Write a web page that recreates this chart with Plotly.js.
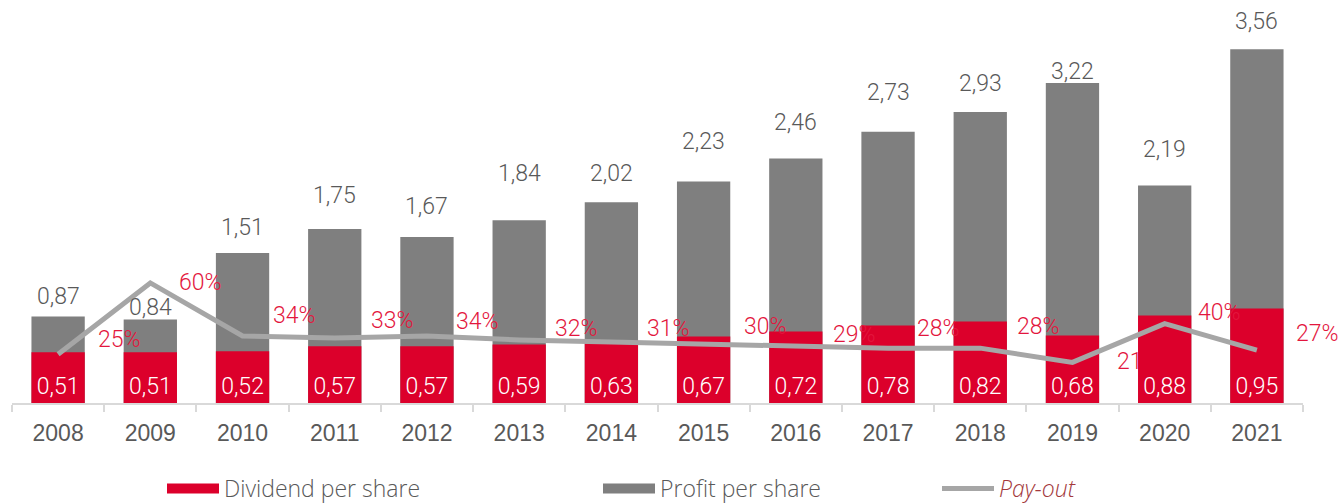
<!DOCTYPE html>
<html>
<head>
<meta charset="utf-8">
<script src="https://cdn.plot.ly/plotly-3.0.1.min.js"></script>
<style>
  html, body { margin: 0; padding: 0; background: #fff; }
  #chart { width: 1340px; height: 504px; }
</style>
</head>
<body>
<div id="chart"></div>
<script>
// values
const years = ['2008', '2009', '2010', '2011', '2012', '2013', '2014', '2015', '2016', '2017', '2018', '2019', '2020', '2021'];
const dividendPerShare = [0.51, 0.51, 0.52, 0.57, 0.57, 0.59, 0.63, 0.67, 0.72, 0.78, 0.82, 0.68, 0.88, 0.95];
const profitPerShare = [0.87, 0.84, 1.51, 1.75, 1.67, 1.84, 2.02, 2.23, 2.46, 2.73, 2.93, 3.22, 2.19, 3.56];
const payout = [25, 60, 34, 33, 34, 32, 31, 30, 29, 28, 28, 21, 40, 27];
// 2019's label is cut to "21" in the source
const payoutLabels = ['25%', '60%', '34%', '33%', '34%', '32%', '31%', '30%', '29%', '28%', '28%', '21', '40%', '27%'];

// label nudges (px), as placed in the original
const profitLabelLift = [20, 12, 25, 34, 31, 47, 29, 40, 36, 39, 28, 12, 36, 28];
const payoutLabelDx = [38, 27, 28, 34, 27, 34, 34, 38, 35, 27, 35, 43, 31, 37];
const payoutLabelDy = [15, 0, 20, 17, 14, 11, 14, 18, 12, 20, 22, 1, 11, 17];

const RED = '#DC002B';
const GREY = '#7F7F7F';
const LINE = '#A6A6A6';
const TEXT = '#595959';
const PCT = '#E3163D';
const LIGHT = 'Roboto, "Open Sans", sans-serif';
const WIDE = '"Open Sans", Roboto, sans-serif';

const fmt = v => v.toFixed(2).replace('.', ',');

const profitTrace = {
    type: 'bar',
    x: years,
    y: profitPerShare,
    width: 0.578,
    marker: { color: GREY },
    showlegend: false,
    hoverinfo: 'skip'
};

const dividendTrace = {
    type: 'bar',
    x: years,
    y: dividendPerShare,
    width: 0.578,
    marker: { color: RED },
    text: dividendPerShare.map(fmt),
    textposition: 'inside',
    insidetextanchor: 'start',
    textangle: 0,
    constraintext: 'none',
    textfont: { family: LIGHT, weight: 300, size: 23, color: '#FFFFFF' },
    showlegend: false,
    hoverinfo: 'skip'
};

const payoutTrace = {
    type: 'scatter',
    mode: 'lines',
    x: years,
    y: payout,
    yaxis: 'y2',
    name: '<i>Pay-out</i>',
    line: { color: LINE, width: 5 },
    legend: 'legend3',
    hoverinfo: 'skip'
};

// legend-only entries so the swatches are wide like the original
const dividendKey = {
    type: 'scatter', mode: 'lines', x: [years[0]], y: [null],
    name: 'Dividend per share', line: { color: RED, width: 14 }, legend: 'legend'
};
const profitKey = {
    type: 'scatter', mode: 'lines', x: [years[0]], y: [null],
    name: 'Profit per share', line: { color: GREY, width: 14 }, legend: 'legend2'
};

const annotations = [];
years.forEach((yr, i) => {
    annotations.push({
        xref: 'x', yref: 'y', x: i, y: profitPerShare[i],
        text: fmt(profitPerShare[i]), showarrow: false,
        xanchor: 'center', yanchor: 'middle', yshift: profitLabelLift[i],
        font: { family: LIGHT, weight: 300, size: 23, color: TEXT }
    });
    annotations.push({
        xref: 'x', yref: 'y2', x: i, y: payout[i],
        text: payoutLabels[i], showarrow: false,
        xanchor: 'left', yanchor: 'middle',
        xshift: payoutLabelDx[i], yshift: payoutLabelDy[i],
        font: { family: LIGHT, weight: 300, size: 23, color: PCT }
    });
});

const legendBase = {
    orientation: 'h',
    xref: 'container',
    yref: 'container',
    xanchor: 'left',
    yanchor: 'top',
    y: 0.0735,
    itemwidth: 52,
    bgcolor: 'rgba(0,0,0,0)',
    font: { family: WIDE, weight: 300, size: 23, color: TEXT }
};

const layout = {
    width: 1340,
    height: 504,
    autosize: false,
    margin: { l: 12, r: 37, t: 0, b: 101 },
    paper_bgcolor: '#FFFFFF',
    plot_bgcolor: '#FFFFFF',
    barmode: 'overlay',
    xaxis: {
        type: 'category',
        range: [-0.5, years.length - 0.5],
        showline: true,
        linecolor: '#D9D9D9',
        linewidth: 2,
        ticks: 'outside',
        tickson: 'boundaries',
        ticklen: 7,
        tickwidth: 2,
        tickcolor: '#D9D9D9',
        ticklabelstandoff: 8,
        showgrid: false,
        zeroline: false,
        tickangle: 0,
        automargin: false,
        tickfont: { family: '"Liberation Sans", Arial, sans-serif', size: 23, color: TEXT }
    },
    yaxis: { range: [0, 4.056], visible: false, fixedrange: true },
    yaxis2: { range: [1.08, 198.8], overlaying: 'y', visible: false, fixedrange: true },
    legend: Object.assign({}, legendBase, { x: 162 / 1340 }),
    legend2: Object.assign({}, legendBase, { x: 598 / 1340 }),
    legend3: Object.assign({}, legendBase, { x: 937 / 1340, font: { family: WIDE, weight: 300, size: 23, color: '#A3393C' } }),
    annotations: annotations
};

Plotly.newPlot('chart', [profitTrace, dividendTrace, payoutTrace, dividendKey, profitKey], layout, { displayModeBar: false, staticPlot: true });
</script>
</body>
</html>
